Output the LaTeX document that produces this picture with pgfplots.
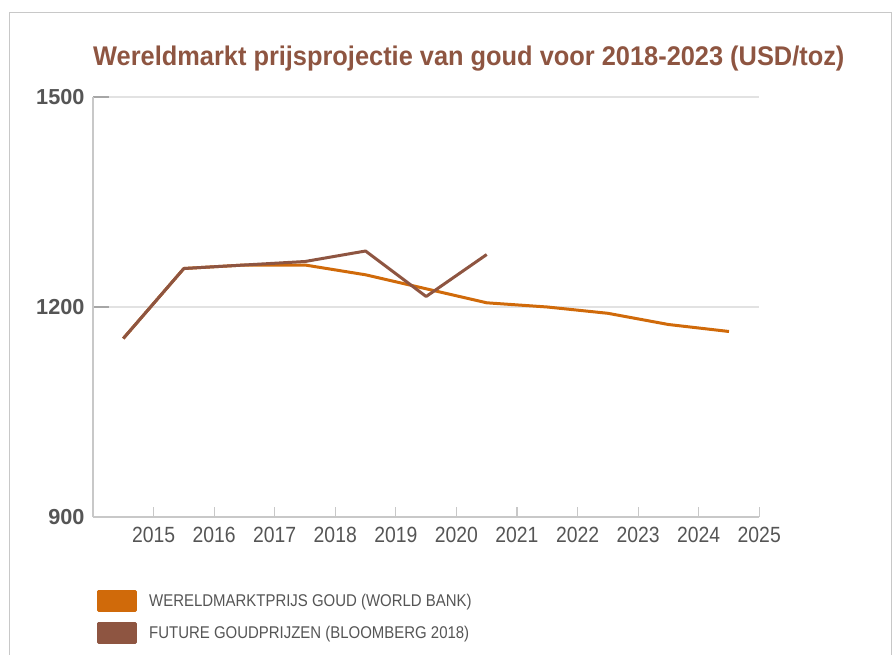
\documentclass[border=0pt]{standalone}
\usepackage{fontspec}
\setmainfont{Liberation Sans}
\newfontfamily\condfont{Liberation Sans}[FakeStretch=0.88]
\newfontfamily\titlefont{Liberation Sans}[FakeStretch=0.94]
\usepackage{pgfplots}
\usepackage{pgfplotstable}
\pgfplotsset{compat=1.18}

\definecolor{wbOrange}{HTML}{D06A0A}
\definecolor{bbBrown}{HTML}{8E5541}
\definecolor{txtGray}{HTML}{555555}
\definecolor{axGray}{HTML}{C8C8C8}
\definecolor{gridGray}{HTML}{E2E2E2}

% world bank projection
\pgfplotstableread{
year price
2014.5 1155
2015.5 1255
2016.5 1260
2017.5 1260
2018.5 1246
2019.5 1226
2020.5 1206
2021.5 1200
2022.5 1191
2023.5 1175
2024.5 1165
}\worldbank

% bloomberg futures
\pgfplotstableread{
year price
2014.5 1155
2015.5 1255
2016.5 1260
2017.5 1265
2018.5 1280
2019.5 1215
2020.5 1275
}\bloomberg

\begin{document}
\begin{tikzpicture}
\useasboundingbox (0,-655pt) rectangle (895pt,0pt);
\draw[axGray, line width=1.5pt] (9.5pt,-700pt) -- (9.5pt,-12.7pt) -- (891.7pt,-12.7pt) -- (891.7pt,-700pt);
\node[anchor=base west, inner sep=0pt, text=bbBrown, font=\titlefont\bfseries\fontsize{27}{27}\selectfont]
  at (93pt,-66pt) {Wereldmarkt prijsprojectie van goud voor 2018-2023 (USD/toz)};
\begin{axis}[
  at={(93pt,-517pt)}, anchor=south west,
  scale only axis, width=666.3pt, height=420pt,
  xmin=2014, xmax=2025, ymin=900, ymax=1500,
  axis x line*=bottom, axis y line*=left,
  axis line style={draw=axGray, line width=1.5pt},
  xtick={2015,...,2025}, ytick={900,1200,1500},
  tick align=inside, major tick length=16pt,
  xtick style={draw=axGray, line width=1.2pt, /pgfplots/major tick length=10pt},
  ytick style={draw=black!35, line width=1.2pt},
  ymajorgrids, grid style={draw=gridGray, line width=1.2pt},
  /pgf/number format/assume math mode=true,
  /pgf/number format/1000 sep={},
  xticklabel style={font=\condfont\fontsize{22}{22}\selectfont, text=txtGray, yshift=-7pt},
  yticklabel style={font=\bfseries\fontsize{21.7}{22}\selectfont, text=txtGray, xshift=-5pt},
  legend style={at={(axis description cs:0.006,-0.1738)}, anchor=north west,
    draw=none, fill=none, inner sep=0pt, row sep=10pt,
    font=\condfont\fontsize{17}{17}\selectfont, text=txtGray,
    /tikz/every odd column/.style={column sep=10pt}},
  legend cell align=left,
]
\addplot[wbOrange, line width=3pt, line join=round,
  legend image code/.code={\fill[wbOrange] (0pt,-9.5pt) rectangle (37pt,9.5pt);}]
  table[x=year, y=price] {\worldbank};
\addlegendentry{WERELDMARKTPRIJS GOUD (WORLD BANK)}
\addplot[bbBrown, line width=3pt, line join=round,
  legend image code/.code={\fill[bbBrown] (0pt,-9.5pt) rectangle (37pt,9.5pt);}]
  table[x=year, y=price] {\bloomberg};
\addlegendentry{FUTURE GOUDPRIJZEN (BLOOMBERG 2018)}
\end{axis}
\end{tikzpicture}
\end{document}
